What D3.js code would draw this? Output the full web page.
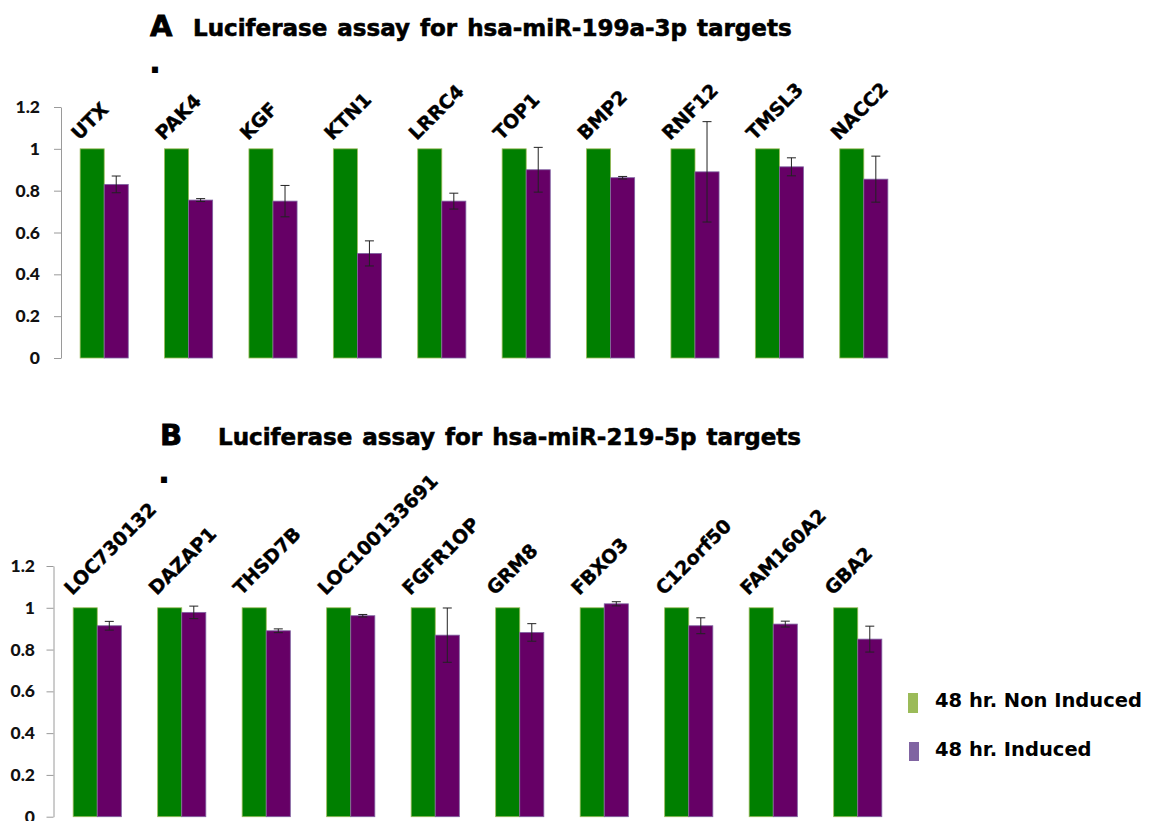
<!DOCTYPE html>
<html>
<head>
<meta charset="utf-8">
<script src="https://cdn.jsdelivr.net/npm/d3@7"></script>
<style>
  body { margin: 0; background: #fff; }
  svg { display: block; }
</style>
</head>
<body>
<script>
// Relative luciferase activity, 48 hr. non induced vs induced
const genesA = ["UTX", "PAK4", "KGF", "KTN1", "LRRC4", "TOP1", "BMP2", "RNF12", "TMSL3", "NACC2"];
const nonInducedA = [1, 1, 1, 1, 1, 1, 1, 1, 1, 1];
const inducedA = [0.83, 0.755, 0.75, 0.50, 0.75, 0.90, 0.862, 0.89, 0.914, 0.855];
const errorA = [0.04, 0.007, 0.075, 0.06, 0.038, 0.107, 0.006, 0.24, 0.043, 0.11];

const genesB = ["LOC730132", "DAZAP1", "THSD7B", "LOC100133691", "FGFR1OP", "GRM8", "FBXO3", "C12orf50", "FAM160A2", "GBA2"];
const nonInducedB = [1, 1, 1, 1, 1, 1, 1, 1, 1, 1];
const inducedB = [0.914, 0.978, 0.890, 0.962, 0.869, 0.882, 1.019, 0.914, 0.922, 0.850];
const errorB = [0.021, 0.03, 0.009, 0.006, 0.13, 0.042, 0.01, 0.038, 0.014, 0.062];

const yTicks = [0, 0.2, 0.4, 0.6, 0.8, 1, 1.2];
const seriesNames = ["48 hr. Non Induced", "48 hr. Induced"];

const W = 1152, H = 821;
const fillColors = ["#007f00", "#660066"];
const edgeColors = ["#9bbb59", "#8064a2"];
const boldFont = "'DejaVu Sans', Verdana, sans-serif";
const tickFont = "Lato, 'Open Sans', sans-serif";

const svg = d3.select("body").append("svg")
  .attr("width", W).attr("height", H)
  .attr("viewBox", `0 0 ${W} ${H}`);

const panels = [
  {
    letter: "A", title: "Luciferase assay for hsa-miR-199a-3p targets",
    genes: genesA, series: [nonInducedA, inducedA], error: errorA,
    axisX: 61, xRange: [62, 906], yRange: [358, 107], tickPad: 14,
    letterX: 150, titleX: 193, titleY: 36, dotX: 148.5, dotY: 73, labelY: 141
  },
  {
    letter: "B", title: "Luciferase assay for hsa-miR-219-5p targets",
    genes: genesB, series: [nonInducedB, inducedB], error: errorB,
    axisX: 53.5, xRange: [55, 900], yRange: [816.7, 566], tickPad: 11.5,
    letterX: 160, titleX: 218, titleY: 445, dotX: 157.5, dotY: 483, labelY: 596
  }
];

panels.forEach(p => {
  const g = svg.append("g");

  const x = d3.scaleBand().domain(p.genes).range(p.xRange)
    .paddingInner(0.43).paddingOuter(0.215);
  const xs = d3.scaleBand().domain([0, 1]).range([0, x.bandwidth()]);
  const y = d3.scaleLinear().domain([0, 1.2]).range(p.yRange);

  // panel letter and heading
  g.append("text")
    .attr("x", p.letterX).attr("y", p.titleY)
    .attr("font-family", boldFont).attr("font-weight", "bold")
    .attr("font-size", 29).attr("fill", "#000")
    .attr("stroke", "#000").attr("stroke-width", 0.8)
    .text(p.letter);
  g.append("text")
    .attr("x", p.titleX).attr("y", p.titleY)
    .attr("font-family", boldFont).attr("font-weight", "bold")
    .attr("font-size", 23).attr("word-spacing", 2).attr("fill", "#000")
    .attr("stroke", "#000").attr("stroke-width", 0.6)
    .text(p.title);
  g.append("text")
    .attr("x", p.dotX).attr("y", p.dotY)
    .attr("font-family", boldFont).attr("font-weight", "bold")
    .attr("font-size", 34).attr("fill", "#000")
    .text(".");

  // value axis
  const axis = g.append("g")
    .attr("transform", `translate(${p.axisX},0)`)
    .call(d3.axisLeft(y).tickValues(yTicks).tickSizeInner(7).tickSizeOuter(0)
      .tickPadding(p.tickPad).tickFormat(d3.format("~g")));
  axis.select(".domain").attr("stroke", "#9a9a9a");
  axis.selectAll(".tick line").attr("stroke", "#9a9a9a");
  axis.selectAll(".tick text")
    .attr("font-family", tickFont).attr("font-weight", 900)
    .attr("font-size", 17.5).attr("fill", "#111");

  // grouped bars
  const groups = g.selectAll(".gene").data(p.genes).join("g")
    .attr("class", "gene")
    .attr("transform", d => `translate(${x(d)},0)`);

  groups.selectAll("rect").data((d, i) => p.series.map((s, k) => ({ k, v: s[i] })))
    .join("rect")
    .attr("x", d => xs(d.k))
    .attr("width", xs.bandwidth())
    .attr("y", d => y(d.v))
    .attr("height", d => y(0) - y(d.v))
    .attr("fill", d => fillColors[d.k])
    .attr("stroke", d => edgeColors[d.k])
    .attr("stroke-width", 0.8);

  // error bars on the induced series
  const cx = xs(1) + xs.bandwidth() / 2;
  const cap = 4.5;
  groups.each(function (d, i) {
    const v = p.series[1][i], e = p.error[i];
    const eg = d3.select(this).append("g")
      .attr("stroke", "#222").attr("stroke-width", 1);
    eg.append("line").attr("x1", cx).attr("x2", cx)
      .attr("y1", y(v + e)).attr("y2", y(v - e));
    eg.append("line").attr("x1", cx - cap).attr("x2", cx + cap)
      .attr("y1", y(v + e)).attr("y2", y(v + e));
    eg.append("line").attr("x1", cx - cap).attr("x2", cx + cap)
      .attr("y1", y(v - e)).attr("y2", y(v - e));
  });

  // rotated gene names above each group
  groups.append("text")
    .attr("transform", `translate(-1,${p.labelY}) rotate(-45)`)
    .attr("font-family", boldFont).attr("font-weight", "bold")
    .attr("font-size", 19).attr("fill", "#000")
    .attr("stroke", "#000").attr("stroke-width", 0.4)
    .text(d => d);
});

// legend
const legend = svg.append("g");
const legendRows = [
  { sx: 908, sy: 693, sh: 20, ty: 707 },
  { sx: 909, sy: 742, sh: 19, ty: 756 }
];
seriesNames.forEach((name, k) => {
  const r = legendRows[k];
  legend.append("rect")
    .attr("x", r.sx).attr("y", r.sy).attr("width", 10).attr("height", r.sh)
    .attr("fill", edgeColors[k]);
  legend.append("text")
    .attr("x", 935).attr("y", r.ty)
    .attr("font-family", boldFont).attr("font-weight", "bold")
    .attr("font-size", 19.5).attr("fill", "#000")
    .text(name);
});
</script>
</body>
</html>
